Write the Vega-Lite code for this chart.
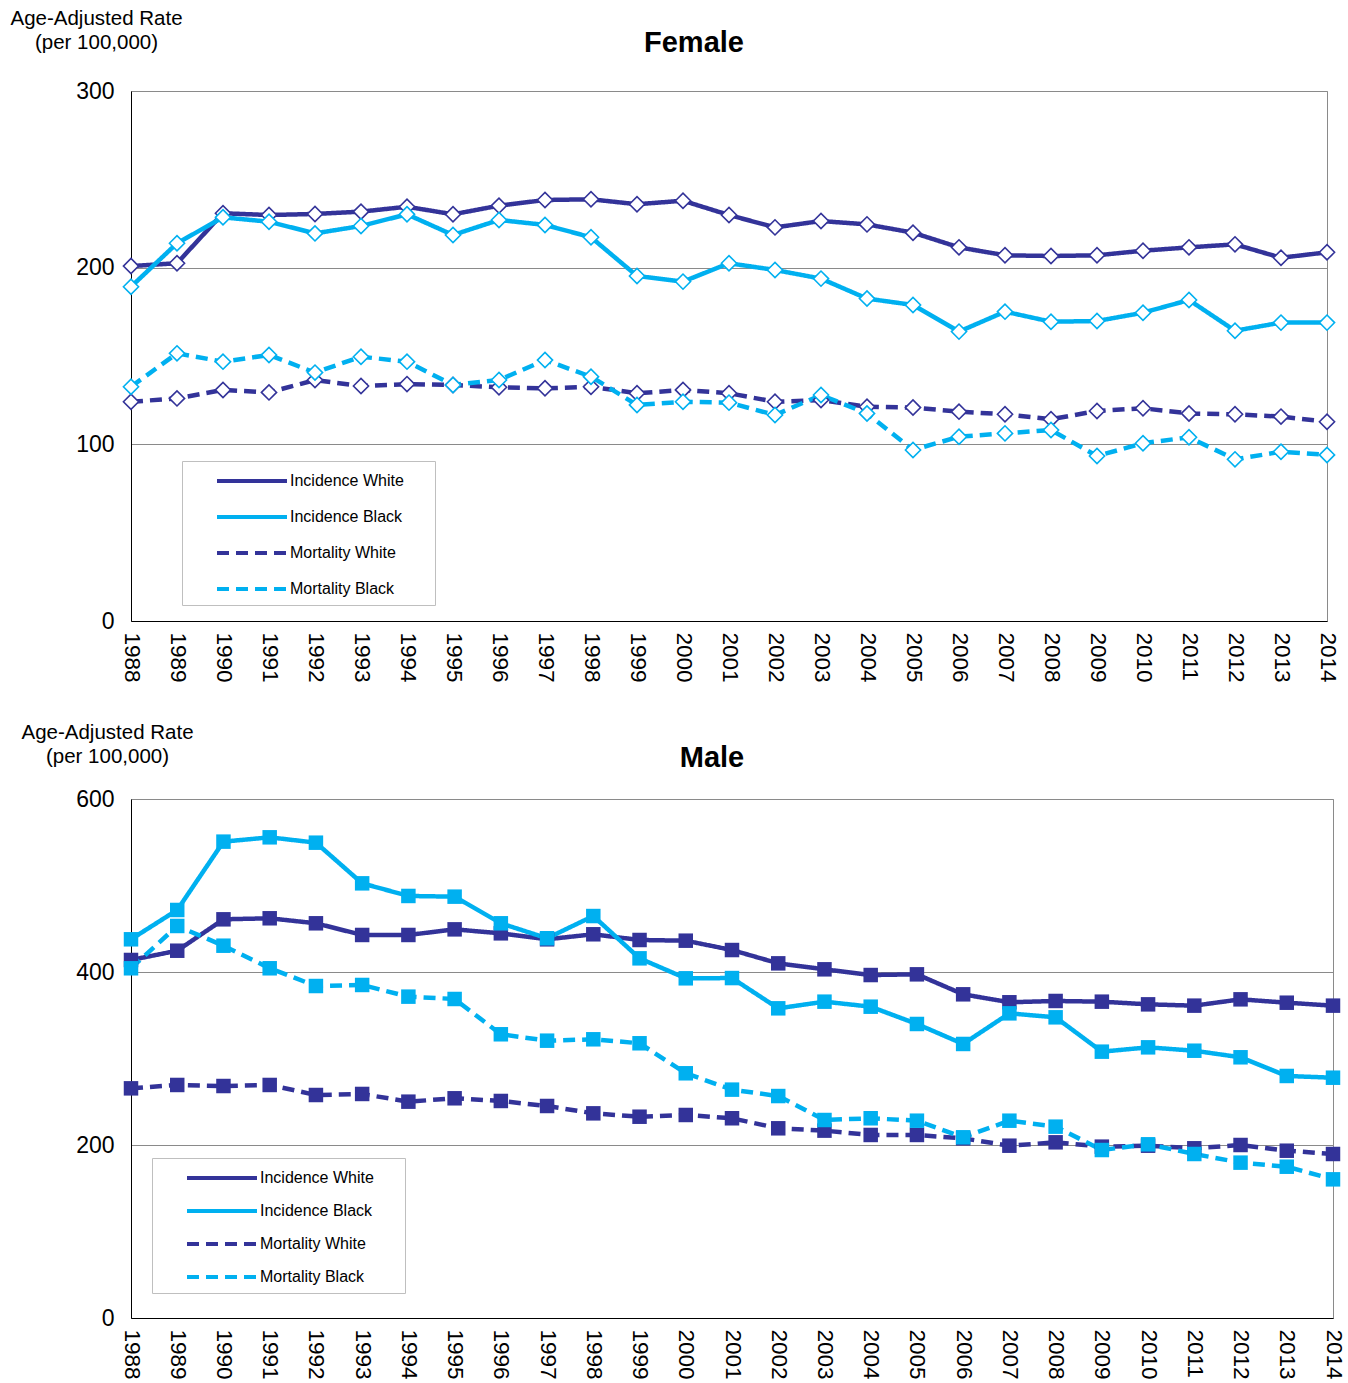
{
  "$schema": "https://vega.github.io/schema/vega-lite/v6.json",
  "padding": {"left": 9, "top": 7, "right": 5, "bottom": 0},
  "background": "white",
  "config": {
    "font": "Liberation Sans",
    "view": {"stroke": "#8a8a8a", "strokeWidth": 1},
    "axis": {"labelColor": "black", "labelFont": "Liberation Sans", "titleFont": "Liberation Sans", "ticks": false},
    "legend": {"titleOrient": "right", "titleOpacity": 0, "titleFontSize": 10, "titlePadding": 13, "symbolType": "M-3.5,0H3.5", "symbolSize": 400, "symbolStrokeWidth": 4, "labelFontSize": 16, "labelColor": "black", "labelOffset": 26, "symbolOffset": 50, "padding": 8, "strokeColor": "#bfbfbf", "fillColor": "white", "orient": "none"}
  },
  "datasets": {
    "female": [
      {"series": "Incidence White", "year": 1988, "rate": 200.9},
      {"series": "Incidence White", "year": 1989, "rate": 202.5},
      {"series": "Incidence White", "year": 1990, "rate": 230.8},
      {"series": "Incidence White", "year": 1991, "rate": 229.8},
      {"series": "Incidence White", "year": 1992, "rate": 230.4},
      {"series": "Incidence White", "year": 1993, "rate": 231.7},
      {"series": "Incidence White", "year": 1994, "rate": 234.5},
      {"series": "Incidence White", "year": 1995, "rate": 230.2},
      {"series": "Incidence White", "year": 1996, "rate": 235.1},
      {"series": "Incidence White", "year": 1997, "rate": 238.3},
      {"series": "Incidence White", "year": 1998, "rate": 238.7},
      {"series": "Incidence White", "year": 1999, "rate": 235.9},
      {"series": "Incidence White", "year": 2000, "rate": 237.9},
      {"series": "Incidence White", "year": 2001, "rate": 229.8},
      {"series": "Incidence White", "year": 2002, "rate": 222.8},
      {"series": "Incidence White", "year": 2003, "rate": 226.4},
      {"series": "Incidence White", "year": 2004, "rate": 224.5},
      {"series": "Incidence White", "year": 2005, "rate": 219.8},
      {"series": "Incidence White", "year": 2006, "rate": 211.5},
      {"series": "Incidence White", "year": 2007, "rate": 207.0},
      {"series": "Incidence White", "year": 2008, "rate": 206.6},
      {"series": "Incidence White", "year": 2009, "rate": 207.0},
      {"series": "Incidence White", "year": 2010, "rate": 209.6},
      {"series": "Incidence White", "year": 2011, "rate": 211.5},
      {"series": "Incidence White", "year": 2012, "rate": 213.2},
      {"series": "Incidence White", "year": 2013, "rate": 205.6},
      {"series": "Incidence White", "year": 2014, "rate": 208.7},
      {"series": "Incidence Black", "year": 1988, "rate": 189.2},
      {"series": "Incidence Black", "year": 1989, "rate": 213.8},
      {"series": "Incidence Black", "year": 1990, "rate": 228.5},
      {"series": "Incidence Black", "year": 1991, "rate": 226.0},
      {"series": "Incidence Black", "year": 1992, "rate": 219.4},
      {"series": "Incidence Black", "year": 1993, "rate": 223.6},
      {"series": "Incidence Black", "year": 1994, "rate": 230.2},
      {"series": "Incidence Black", "year": 1995, "rate": 218.5},
      {"series": "Incidence Black", "year": 1996, "rate": 227.0},
      {"series": "Incidence Black", "year": 1997, "rate": 224.2},
      {"series": "Incidence Black", "year": 1998, "rate": 217.2},
      {"series": "Incidence Black", "year": 1999, "rate": 195.3},
      {"series": "Incidence Black", "year": 2000, "rate": 192.1},
      {"series": "Incidence Black", "year": 2001, "rate": 202.5},
      {"series": "Incidence Black", "year": 2002, "rate": 198.7},
      {"series": "Incidence Black", "year": 2003, "rate": 193.8},
      {"series": "Incidence Black", "year": 2004, "rate": 182.5},
      {"series": "Incidence Black", "year": 2005, "rate": 178.9},
      {"series": "Incidence Black", "year": 2006, "rate": 163.8},
      {"series": "Incidence Black", "year": 2007, "rate": 175.1},
      {"series": "Incidence Black", "year": 2008, "rate": 169.4},
      {"series": "Incidence Black", "year": 2009, "rate": 169.8},
      {"series": "Incidence Black", "year": 2010, "rate": 174.5},
      {"series": "Incidence Black", "year": 2011, "rate": 181.7},
      {"series": "Incidence Black", "year": 2012, "rate": 164.3},
      {"series": "Incidence Black", "year": 2013, "rate": 168.9},
      {"series": "Incidence Black", "year": 2014, "rate": 168.9},
      {"series": "Mortality White", "year": 1988, "rate": 124.1},
      {"series": "Mortality White", "year": 1989, "rate": 126.0},
      {"series": "Mortality White", "year": 1990, "rate": 130.8},
      {"series": "Mortality White", "year": 1991, "rate": 129.4},
      {"series": "Mortality White", "year": 1992, "rate": 136.4},
      {"series": "Mortality White", "year": 1993, "rate": 133.0},
      {"series": "Mortality White", "year": 1994, "rate": 134.1},
      {"series": "Mortality White", "year": 1995, "rate": 133.6},
      {"series": "Mortality White", "year": 1996, "rate": 132.3},
      {"series": "Mortality White", "year": 1997, "rate": 131.7},
      {"series": "Mortality White", "year": 1998, "rate": 132.6},
      {"series": "Mortality White", "year": 1999, "rate": 128.9},
      {"series": "Mortality White", "year": 2000, "rate": 130.8},
      {"series": "Mortality White", "year": 2001, "rate": 128.9},
      {"series": "Mortality White", "year": 2002, "rate": 124.1},
      {"series": "Mortality White", "year": 2003, "rate": 125.1},
      {"series": "Mortality White", "year": 2004, "rate": 121.3},
      {"series": "Mortality White", "year": 2005, "rate": 120.8},
      {"series": "Mortality White", "year": 2006, "rate": 118.5},
      {"series": "Mortality White", "year": 2007, "rate": 117.0},
      {"series": "Mortality White", "year": 2008, "rate": 114.2},
      {"series": "Mortality White", "year": 2009, "rate": 118.9},
      {"series": "Mortality White", "year": 2010, "rate": 120.4},
      {"series": "Mortality White", "year": 2011, "rate": 117.5},
      {"series": "Mortality White", "year": 2012, "rate": 117.0},
      {"series": "Mortality White", "year": 2013, "rate": 115.7},
      {"series": "Mortality White", "year": 2014, "rate": 112.8},
      {"series": "Mortality Black", "year": 1988, "rate": 132.6},
      {"series": "Mortality Black", "year": 1989, "rate": 151.5},
      {"series": "Mortality Black", "year": 1990, "rate": 146.8},
      {"series": "Mortality Black", "year": 1991, "rate": 150.6},
      {"series": "Mortality Black", "year": 1992, "rate": 140.6},
      {"series": "Mortality Black", "year": 1993, "rate": 149.6},
      {"series": "Mortality Black", "year": 1994, "rate": 146.8},
      {"series": "Mortality Black", "year": 1995, "rate": 133.6},
      {"series": "Mortality Black", "year": 1996, "rate": 136.4},
      {"series": "Mortality Black", "year": 1997, "rate": 147.7},
      {"series": "Mortality Black", "year": 1998, "rate": 138.3},
      {"series": "Mortality Black", "year": 1999, "rate": 122.3},
      {"series": "Mortality Black", "year": 2000, "rate": 124.1},
      {"series": "Mortality Black", "year": 2001, "rate": 123.6},
      {"series": "Mortality Black", "year": 2002, "rate": 116.6},
      {"series": "Mortality Black", "year": 2003, "rate": 127.9},
      {"series": "Mortality Black", "year": 2004, "rate": 117.5},
      {"series": "Mortality Black", "year": 2005, "rate": 96.8},
      {"series": "Mortality Black", "year": 2006, "rate": 104.3},
      {"series": "Mortality Black", "year": 2007, "rate": 106.2},
      {"series": "Mortality Black", "year": 2008, "rate": 108.1},
      {"series": "Mortality Black", "year": 2009, "rate": 93.4},
      {"series": "Mortality Black", "year": 2010, "rate": 100.6},
      {"series": "Mortality Black", "year": 2011, "rate": 104.0},
      {"series": "Mortality Black", "year": 2012, "rate": 91.5},
      {"series": "Mortality Black", "year": 2013, "rate": 95.8},
      {"series": "Mortality Black", "year": 2014, "rate": 94.0}
    ],
    "male": [
      {"series": "Incidence White", "year": 1988, "rate": 413.9},
      {"series": "Incidence White", "year": 1989, "rate": 424.6},
      {"series": "Incidence White", "year": 1990, "rate": 460.9},
      {"series": "Incidence White", "year": 1991, "rate": 462.1},
      {"series": "Incidence White", "year": 1992, "rate": 456.3},
      {"series": "Incidence White", "year": 1993, "rate": 442.8},
      {"series": "Incidence White", "year": 1994, "rate": 442.8},
      {"series": "Incidence White", "year": 1995, "rate": 449.3},
      {"series": "Incidence White", "year": 1996, "rate": 444.7},
      {"series": "Incidence White", "year": 1997, "rate": 437.8},
      {"series": "Incidence White", "year": 1998, "rate": 443.6},
      {"series": "Incidence White", "year": 1999, "rate": 437.0},
      {"series": "Incidence White", "year": 2000, "rate": 436.2},
      {"series": "Incidence White", "year": 2001, "rate": 425.4},
      {"series": "Incidence White", "year": 2002, "rate": 410.0},
      {"series": "Incidence White", "year": 2003, "rate": 403.1},
      {"series": "Incidence White", "year": 2004, "rate": 396.5},
      {"series": "Incidence White", "year": 2005, "rate": 397.3},
      {"series": "Incidence White", "year": 2006, "rate": 374.2},
      {"series": "Incidence White", "year": 2007, "rate": 365.0},
      {"series": "Incidence White", "year": 2008, "rate": 366.5},
      {"series": "Incidence White", "year": 2009, "rate": 365.7},
      {"series": "Incidence White", "year": 2010, "rate": 362.6},
      {"series": "Incidence White", "year": 2011, "rate": 361.1},
      {"series": "Incidence White", "year": 2012, "rate": 368.4},
      {"series": "Incidence White", "year": 2013, "rate": 364.5},
      {"series": "Incidence White", "year": 2014, "rate": 361.1},
      {"series": "Incidence Black", "year": 1988, "rate": 437.8},
      {"series": "Incidence Black", "year": 1989, "rate": 471.7},
      {"series": "Incidence Black", "year": 1990, "rate": 550.7},
      {"series": "Incidence Black", "year": 1991, "rate": 555.7},
      {"series": "Incidence Black", "year": 1992, "rate": 549.5},
      {"series": "Incidence Black", "year": 1993, "rate": 502.5},
      {"series": "Incidence Black", "year": 1994, "rate": 487.9},
      {"series": "Incidence Black", "year": 1995, "rate": 487.1},
      {"series": "Incidence Black", "year": 1996, "rate": 456.3},
      {"series": "Incidence Black", "year": 1997, "rate": 439.0},
      {"series": "Incidence Black", "year": 1998, "rate": 464.7},
      {"series": "Incidence Black", "year": 1999, "rate": 415.8},
      {"series": "Incidence Black", "year": 2000, "rate": 392.7},
      {"series": "Incidence Black", "year": 2001, "rate": 393.0},
      {"series": "Incidence Black", "year": 2002, "rate": 358.0},
      {"series": "Incidence Black", "year": 2003, "rate": 365.7},
      {"series": "Incidence Black", "year": 2004, "rate": 359.9},
      {"series": "Incidence Black", "year": 2005, "rate": 339.9},
      {"series": "Incidence Black", "year": 2006, "rate": 316.8},
      {"series": "Incidence Black", "year": 2007, "rate": 352.2},
      {"series": "Incidence Black", "year": 2008, "rate": 347.6},
      {"series": "Incidence Black", "year": 2009, "rate": 307.9},
      {"series": "Incidence Black", "year": 2010, "rate": 312.9},
      {"series": "Incidence Black", "year": 2011, "rate": 309.0},
      {"series": "Incidence Black", "year": 2012, "rate": 301.4},
      {"series": "Incidence Black", "year": 2013, "rate": 279.8},
      {"series": "Incidence Black", "year": 2014, "rate": 277.8},
      {"series": "Mortality White", "year": 1988, "rate": 265.5},
      {"series": "Mortality White", "year": 1989, "rate": 269.4},
      {"series": "Mortality White", "year": 1990, "rate": 268.2},
      {"series": "Mortality White", "year": 1991, "rate": 269.4},
      {"series": "Mortality White", "year": 1992, "rate": 257.8},
      {"series": "Mortality White", "year": 1993, "rate": 259.0},
      {"series": "Mortality White", "year": 1994, "rate": 250.1},
      {"series": "Mortality White", "year": 1995, "rate": 254.0},
      {"series": "Mortality White", "year": 1996, "rate": 250.9},
      {"series": "Mortality White", "year": 1997, "rate": 245.1},
      {"series": "Mortality White", "year": 1998, "rate": 236.6},
      {"series": "Mortality White", "year": 1999, "rate": 232.7},
      {"series": "Mortality White", "year": 2000, "rate": 234.7},
      {"series": "Mortality White", "year": 2001, "rate": 230.9},
      {"series": "Mortality White", "year": 2002, "rate": 219.3},
      {"series": "Mortality White", "year": 2003, "rate": 216.6},
      {"series": "Mortality White", "year": 2004, "rate": 211.6},
      {"series": "Mortality White", "year": 2005, "rate": 211.6},
      {"series": "Mortality White", "year": 2006, "rate": 207.7},
      {"series": "Mortality White", "year": 2007, "rate": 199.2},
      {"series": "Mortality White", "year": 2008, "rate": 203.1},
      {"series": "Mortality White", "year": 2009, "rate": 198.1},
      {"series": "Mortality White", "year": 2010, "rate": 199.2},
      {"series": "Mortality White", "year": 2011, "rate": 196.2},
      {"series": "Mortality White", "year": 2012, "rate": 200.0},
      {"series": "Mortality White", "year": 2013, "rate": 193.4},
      {"series": "Mortality White", "year": 2014, "rate": 189.6},
      {"series": "Mortality Black", "year": 1988, "rate": 404.3},
      {"series": "Mortality Black", "year": 1989, "rate": 453.2},
      {"series": "Mortality Black", "year": 1990, "rate": 430.4},
      {"series": "Mortality Black", "year": 1991, "rate": 404.3},
      {"series": "Mortality Black", "year": 1992, "rate": 383.8},
      {"series": "Mortality Black", "year": 1993, "rate": 385.0},
      {"series": "Mortality Black", "year": 1994, "rate": 371.5},
      {"series": "Mortality Black", "year": 1995, "rate": 368.8},
      {"series": "Mortality Black", "year": 1996, "rate": 328.0},
      {"series": "Mortality Black", "year": 1997, "rate": 320.6},
      {"series": "Mortality Black", "year": 1998, "rate": 322.2},
      {"series": "Mortality Black", "year": 1999, "rate": 317.6},
      {"series": "Mortality Black", "year": 2000, "rate": 282.9},
      {"series": "Mortality Black", "year": 2001, "rate": 264.0},
      {"series": "Mortality Black", "year": 2002, "rate": 256.6},
      {"series": "Mortality Black", "year": 2003, "rate": 228.9},
      {"series": "Mortality Black", "year": 2004, "rate": 230.9},
      {"series": "Mortality Black", "year": 2005, "rate": 228.1},
      {"series": "Mortality Black", "year": 2006, "rate": 208.9},
      {"series": "Mortality Black", "year": 2007, "rate": 228.1},
      {"series": "Mortality Black", "year": 2008, "rate": 221.2},
      {"series": "Mortality Black", "year": 2009, "rate": 194.2},
      {"series": "Mortality Black", "year": 2010, "rate": 200.8},
      {"series": "Mortality Black", "year": 2011, "rate": 189.6},
      {"series": "Mortality Black", "year": 2012, "rate": 179.6},
      {"series": "Mortality Black", "year": 2013, "rate": 174.9},
      {"series": "Mortality Black", "year": 2014, "rate": 160.3}
    ]
  },
  "spacing": 38,
  "vconcat": [
    {
      "data": {"name": "female"},
      "width": 1196,
      "height": 530,
      "title": {"text": "Female", "fontSize": 29, "fontWeight": "bold", "color": "black", "anchor": "middle", "dx": -35, "dy": 54},
      "encoding": {
        "x": {"field": "year", "type": "ordinal", "scale": {"type": "point", "padding": 0},
              "axis": {"title": null, "labelAngle": 90, "labelFontSize": 22.5, "labelPadding": 11, "domainColor": "black", "grid": false}},
        "y": {"field": "rate", "type": "quantitative", "scale": {"domain": [0, 300]},
              "axis": {"values": [0, 100, 200, 300], "title": ["Age-Adjusted Rate", "(per 100,000)"], "titleAngle": 0, "titleAlign": "center", "titleBaseline": "top", "titleX": -35, "titleY": -83, "titleFontSize": 20.5, "titleFontWeight": "normal", "titleColor": "black", "titleLineHeight": 24, "labelFontSize": 23, "labelPadding": 17, "domainColor": "black", "grid": true, "gridColor": "#8a8a8a"}},
        "color": {"field": "series", "type": "nominal",
                  "scale": {"domain": ["Incidence White", "Incidence Black", "Mortality White", "Mortality Black"], "range": ["#333399", "#00B0F0", "#333399", "#00B0F0"]},
                  "legend": {"title": "—", "legendX": 51, "legendY": 370, "rowPadding": 16}}
      },
      "layer": [
        {"mark": {"type": "line", "strokeWidth": 4.5},
         "encoding": {"strokeDash": {"field": "series", "type": "nominal",
           "scale": {"domain": ["Incidence White", "Incidence Black", "Mortality White", "Mortality Black"], "range": [[1, 0], [1, 0], [12, 7], [12, 7]]},
           "legend": {"title": "—", "legendX": 51, "legendY": 370, "rowPadding": 16}}}},
        {"mark": {"type": "point", "shape": "diamond", "filled": false, "fill": "white", "fillOpacity": 1, "size": 230, "strokeWidth": 1.6, "opacity": 1}}
      ]
    },
    {
      "data": {"name": "male"},
      "width": 1202,
      "height": 519,
      "title": {"text": "Male", "fontSize": 29, "fontWeight": "bold", "color": "black", "anchor": "middle", "dx": -20, "dy": 55},
      "encoding": {
        "x": {"field": "year", "type": "ordinal", "scale": {"type": "point", "padding": 0},
              "axis": {"title": null, "labelAngle": 90, "labelFontSize": 22.5, "labelPadding": 11, "domainColor": "black", "grid": false}},
        "y": {"field": "rate", "type": "quantitative", "scale": {"domain": [0, 600]},
              "axis": {"values": [0, 200, 400, 600], "title": ["Age-Adjusted Rate", "(per 100,000)"], "titleAngle": 0, "titleAlign": "center", "titleBaseline": "top", "titleX": -24, "titleY": -77, "titleFontSize": 20.5, "titleFontWeight": "normal", "titleColor": "black", "titleLineHeight": 24, "labelFontSize": 23, "labelPadding": 17, "domainColor": "black", "grid": true, "gridColor": "#8a8a8a"}},
        "color": {"field": "series", "type": "nominal",
                  "scale": {"domain": ["Incidence White", "Incidence Black", "Mortality White", "Mortality Black"], "range": ["#333399", "#00B0F0", "#333399", "#00B0F0"]},
                  "legend": {"title": "—", "legendX": 21, "legendY": 359, "rowPadding": 13}}
      },
      "layer": [
        {"mark": {"type": "line", "strokeWidth": 4.5},
         "encoding": {"strokeDash": {"field": "series", "type": "nominal",
           "scale": {"domain": ["Incidence White", "Incidence Black", "Mortality White", "Mortality Black"], "range": [[1, 0], [1, 0], [12, 7], [12, 7]]},
           "legend": {"title": "—", "legendX": 21, "legendY": 359, "rowPadding": 13}}}},
        {"mark": {"type": "point", "shape": "square", "filled": true, "size": 210, "opacity": 1}}
      ]
    }
  ],
  "resolve": {"scale": {"color": "independent", "strokeDash": "independent"}}
}
